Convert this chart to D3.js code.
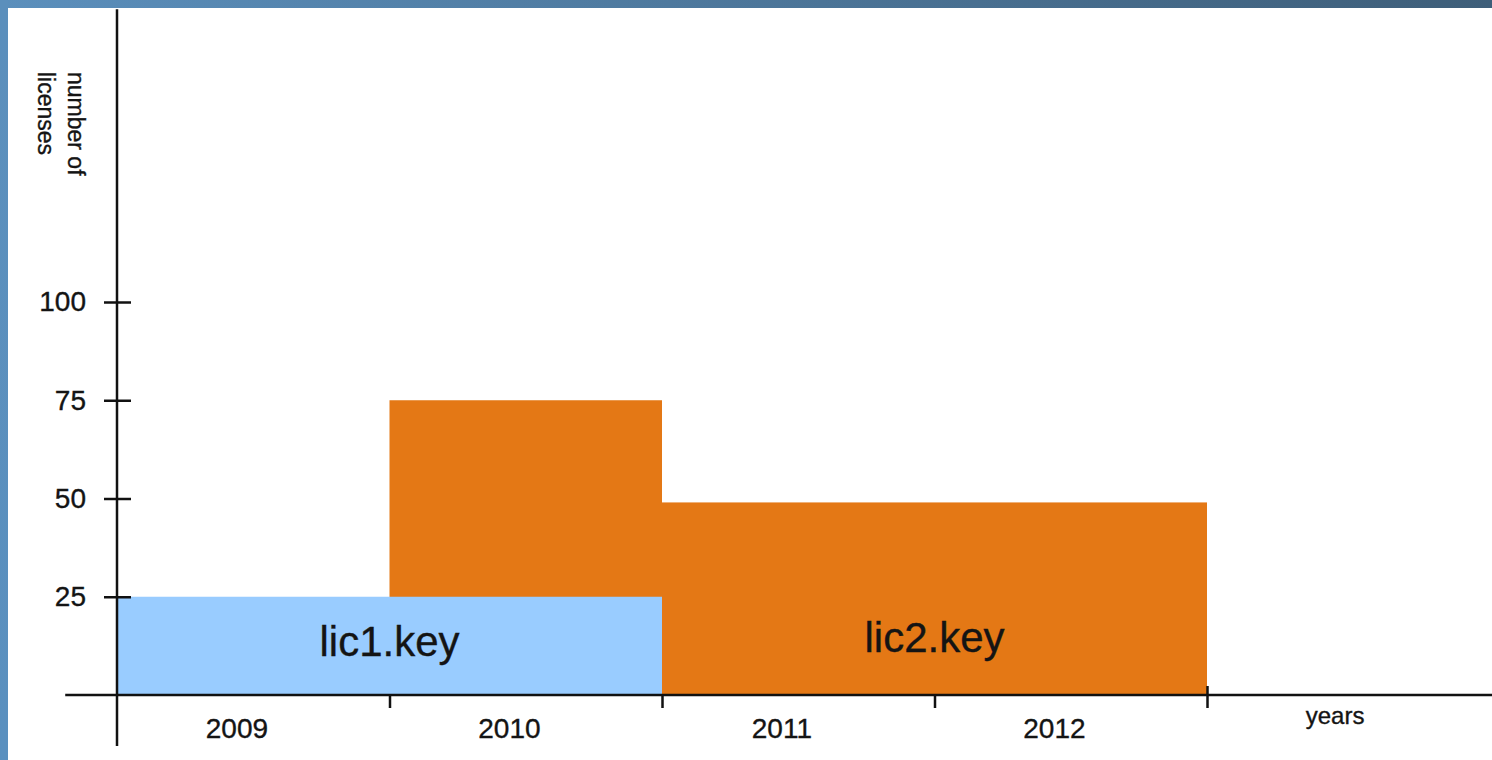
<!DOCTYPE html>
<html>
<head>
<meta charset="utf-8">
<script src="https://cdn.jsdelivr.net/npm/d3@7"></script>
<style>
  html, body { margin: 0; padding: 0; background: #ffffff; }
  svg { display: block; }
  text { font-family: "Liberation Sans", Arial, sans-serif; fill: #141414; stroke: #141414; stroke-width: 0.35px; }
</style>
</head>
<body>
<svg id="chart" width="1492" height="760"></svg>
<script>
// ---- data ----
const years = [2009, 2010, 2011, 2012];
const xTickYears = [2010, 2011, 2012, 2013];
const yTicks = [25, 50, 75, 100];
const barNames = ["lic2.key", "lic2.key", "lic1.key"];
const barStart = [2010, 2011, 2009];
const barEnd = [2011, 2013, 2011];
const barValue = [75, 49, 25];
const barColor = ["#E47815", "#E47815", "#99CCFF"];
const labelNames = ["lic1.key", "lic2.key"];
const labelStart = [2009, 2011];
const labelEnd = [2011, 2013];
const yTitle = ["number of", "licenses"];
const xTitle = "years";

const W = 1492, H = 760;
const svg = d3.select("#chart");

// ---- frame ----
const defs = svg.append("defs");
const gTop = defs.append("linearGradient").attr("id", "gTop").attr("x1", 0).attr("x2", 1).attr("y1", 0).attr("y2", 0);
gTop.append("stop").attr("offset", 0).attr("stop-color", "#5b8fbc");
gTop.append("stop").attr("offset", 1).attr("stop-color", "#3e5e79");
const gLeft = defs.append("linearGradient").attr("id", "gLeft").attr("x1", 0).attr("x2", 0).attr("y1", 0).attr("y2", 1);
gLeft.append("stop").attr("offset", 0).attr("stop-color", "#5b8fbc");
gLeft.append("stop").attr("offset", 1).attr("stop-color", "#5a90bf");
svg.append("rect").attr("x", 0).attr("y", 0).attr("width", W).attr("height", 8).attr("fill", "url(#gTop)");
svg.append("rect").attr("x", 0).attr("y", 0).attr("width", 8).attr("height", H).attr("fill", "url(#gLeft)");
svg.append("rect").attr("x", 8).attr("y", 8).attr("width", W - 8).attr("height", H - 8).attr("fill", "#ffffff");

// ---- scales ----
const x = d3.scaleLinear().domain([2009, 2013]).range([117, 1207]);
const y = d3.scaleLinear().domain([0, 100]).range([695, 302]);

// ---- bars ----
svg.append("g").selectAll("rect")
  .data(barValue.map((v, i) => ({ v, s: barStart[i], e: barEnd[i], c: barColor[i], n: barNames[i] })))
  .join("rect")
  .attr("x", d => x(d.s))
  .attr("width", d => x(d.e) - x(d.s))
  .attr("y", d => y(d.v))
  .attr("height", d => y(0) - y(d.v))
  .attr("fill", d => d.c);

// bar labels
svg.append("g").selectAll("text")
  .data(labelNames.map((n, i) => ({ n, s: labelStart[i], e: labelEnd[i], i })))
  .join("text")
  .attr("x", d => (x(d.s) + x(d.e)) / 2)
  .attr("y", d => y(12.5) + (d.i === 0 ? 10 : 6))
  .attr("text-anchor", "middle")
  .attr("font-size", 42)
  .text(d => d.n);

// ---- axes ----
const axisColor = "#111111";
const yAxis = svg.append("g")
  .attr("transform", `translate(${x(2009)},0)`)
  .call(d3.axisLeft(y).tickValues(yTicks).tickSize(0).tickPadding(31));
yAxis.select(".domain").remove();
yAxis.selectAll(".tick line").attr("x1", -13).attr("x2", 14).attr("stroke", axisColor).attr("stroke-width", 2.5);
yAxis.selectAll(".tick text")
  .attr("font-size", 28).attr("fill", "#141414")
  .attr("font-family", '"Liberation Sans", Arial, sans-serif');

const xAxis = svg.append("g")
  .attr("transform", `translate(0,${y(0)})`)
  .call(d3.axisBottom(x).tickValues(xTickYears).tickSize(13).tickFormat(""));
xAxis.select(".domain").remove();
xAxis.selectAll(".tick line").attr("stroke", axisColor).attr("stroke-width", 2.5)
  .attr("y1", d => d === 2013 ? -9 : 0);

// axis lines (extended beyond the plot)
svg.append("line")
  .attr("x1", x(2009)).attr("x2", x(2009))
  .attr("y1", y(174.5)).attr("y2", y(-13))
  .attr("stroke", axisColor).attr("stroke-width", 2.5);
svg.append("line")
  .attr("x1", x(2008.81)).attr("x2", W)
  .attr("y1", y(0)).attr("y2", y(0))
  .attr("stroke", axisColor).attr("stroke-width", 2.5);

// x labels
svg.append("g").selectAll("text")
  .data(years)
  .join("text")
  .attr("x", d => x(d + 0.44))
  .attr("y", y(0) + 43)
  .attr("text-anchor", "middle")
  .attr("font-size", 28)
  .text(d => d);

svg.append("text")
  .attr("x", x(2013.47))
  .attr("y", y(0) + 29)
  .attr("text-anchor", "middle")
  .attr("font-size", 24)
  .text(xTitle);

// y title (rotated)
const yt = svg.append("text")
  .attr("transform", "translate(68,72) rotate(90)")
  .attr("font-size", 23);
yTitle.forEach((t, i) => {
  yt.append("tspan").attr("x", 0).attr("y", i * 30).text(t);
});
</script>
</body>
</html>
